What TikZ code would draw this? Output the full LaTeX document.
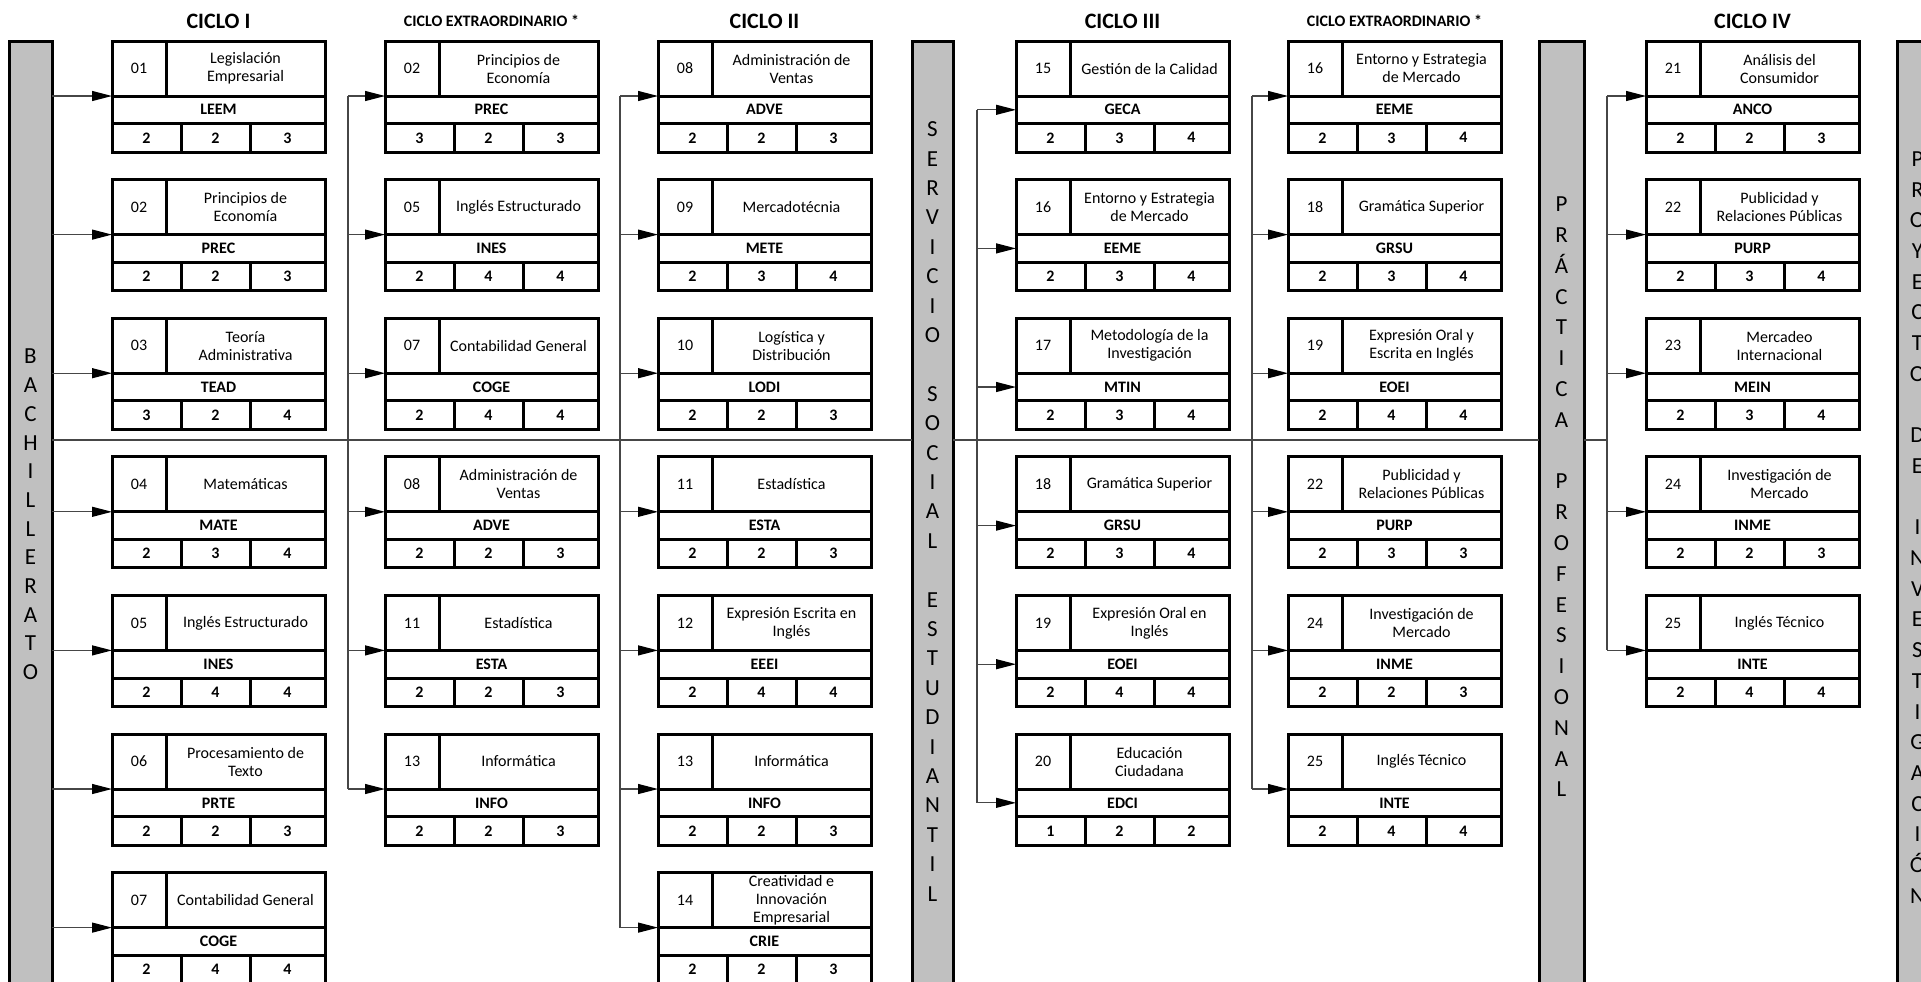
\documentclass[tikz,border=0pt]{standalone}
\usepackage{fontspec}
\setmainfont{Carlito}
\usetikzlibrary{arrows.meta}

\definecolor{barGray}{RGB}{192,192,192}
\definecolor{lineGray}{RGB}{70,70,70}

\tikzset{
  cell/.style={draw, line width=1.5pt, outer sep=0pt, inner sep=0.5pt, align=center, anchor=north west},
  numcell/.style={cell, minimum width=27pt, minimum height=27.5pt, font=\fontsize{8}{9}\selectfont},
  titlecell/.style={cell, minimum width=79.5pt, minimum height=27.5pt, font=\fontsize{8}{9}\selectfont},
  codecell/.style={cell, minimum width=106.5pt, minimum height=13.8pt, font=\bfseries\fontsize{8}{9}\selectfont},
  credcell/.style={cell, minimum width=34.5pt, minimum height=14.2pt, font=\bfseries\fontsize{8}{9}\selectfont},
  bar/.style={draw, line width=1.5pt, fill=barGray, outer sep=0pt, minimum height=474pt, anchor=north},
  bartext/.style={align=center, inner sep=0pt},
  conn/.style={draw=lineGray, line width=0.6pt},
  arr/.style={conn, -{Triangle[length=10pt,width=5pt,color=black]}},
  ciclo/.style={font=\bfseries\fontsize{11}{13}\selectfont},
  extra/.style={font=\bfseries\fontsize{8}{10}\selectfont}
}

% one subject box: name, top left, number, title, code, credits
\newcommand{\materia}[8]{%
  \node[numcell] (#1-n) at (#2) {#3};
  \node[titlecell] (#1-t) at (#1-n.north east) {#4};
  \node[codecell] (#1-c) at (#1-n.south west) {#5};
  \node[credcell] (#1-x) at (#1-c.south west) {#6};
  \node[credcell] (#1-y) at (#1-x.north east) {#7};
  \node[credcell, minimum width=37.5pt] (#1-z) at (#1-y.north east) {#8};
}

\begin{document}
\begin{tikzpicture}[x=0.5pt, y=0.5pt]
  \useasboundingbox (0,0) rectangle (1921,-981);
  \clip (0,0) rectangle (1921,-981);

  % Bars
  \node[bar, minimum width=21.5pt] (bach) at (30.5,-41) {};
  \node[bar, minimum width=20.5pt] (serv) at (932.5,-41) {};
  \node[bar, minimum width=22.5pt] (prac) at (1561.5,-41) {};
  \node[bar, minimum width=21.5pt] (proy) at (1918.5,-41) {};
  \node[bartext, font=\fontsize{11.5}{14.35}\selectfont] (bach-txt) at (30.5,-514.5)
    {B\\A\\C\\H\\I\\L\\L\\E\\R\\A\\T\\O};
  \node[bartext, font=\fontsize{11.5}{14.7}\selectfont] (serv-txt) at (932.5,-511.5)
    {S\\E\\R\\V\\I\\C\\I\\O\\[14.7pt]S\\O\\C\\I\\A\\L\\[14.7pt]E\\S\\T\\U\\D\\I\\A\\N\\T\\I\\L};
  \node[bartext, font=\fontsize{11.5}{15.4}\selectfont] (prac-txt) at (1561.5,-497)
    {P\\R\\Á\\C\\T\\I\\C\\A\\[15.4pt]P\\R\\O\\F\\E\\S\\I\\O\\N\\A\\L};
  \node[bartext, font=\fontsize{11.5}{15.35}\selectfont] (proy-txt) at (1917.5,-527.5)
    {P\\R\\O\\Y\\E\\C\\T\\O\\[15.35pt]D\\E\\[15.35pt]I\\N\\V\\E\\S\\T\\I\\G\\A\\C\\I\\Ó\\N};

  % Headers
  \node[ciclo] (h1) at (218.5,-21) {CICLO I};
  \node[extra] (h2) at (491.5,-21) {CICLO EXTRAORDINARIO *};
  \node[ciclo] (h3) at (764.5,-21) {CICLO II};
  \node[ciclo] (h4) at (1122.5,-21) {CICLO III};
  \node[extra] (h5) at (1394.5,-21) {CICLO EXTRAORDINARIO *};
  \node[ciclo] (h6) at (1752.5,-21) {CICLO IV};

  % Ciclo I
  \materia{ci01}{112,-41}{01}{Legislación\\Empresarial}{LEEM}{2}{2}{3}
  \materia{ci02}{112,-179.6}{02}{Principios de\\Economía}{PREC}{2}{2}{3}
  \materia{ci03}{112,-318.2}{03}{Teoría\\Administrativa}{TEAD}{3}{2}{4}
  \materia{ci04}{112,-456.8}{04}{Matemáticas}{MATE}{2}{3}{4}
  \materia{ci05}{112,-595.4}{05}{Inglés Estructurado}{INES}{2}{4}{4}
  \materia{ci06}{112,-734}{06}{Procesamiento de\\Texto}{PRTE}{2}{2}{3}
  \materia{ci07}{112,-872.6}{07}{Contabilidad General}{COGE}{2}{4}{4}

  % Ciclo extraordinario
  \materia{ea02}{385,-41}{02}{Principios de\\Economía}{PREC}{3}{2}{3}
  \materia{ea05}{385,-179.6}{05}{Inglés Estructurado}{INES}{2}{4}{4}
  \materia{ea07}{385,-318.2}{07}{Contabilidad General}{COGE}{2}{4}{4}
  \materia{ea08}{385,-456.8}{08}{Administración de\\Ventas}{ADVE}{2}{2}{3}
  \materia{ea11}{385,-595.4}{11}{Estadística}{ESTA}{2}{2}{3}
  \materia{ea13}{385,-734}{13}{Informática}{INFO}{2}{2}{3}

  % Ciclo II
  \materia{cii08}{658,-41}{08}{Administración de\\Ventas}{ADVE}{2}{2}{3}
  \materia{cii09}{658,-179.6}{09}{Mercadotécnia}{METE}{2}{3}{4}
  \materia{cii10}{658,-318.2}{10}{Logística y\\Distribución}{LODI}{2}{2}{3}
  \materia{cii11}{658,-456.8}{11}{Estadística}{ESTA}{2}{2}{3}
  \materia{cii12}{658,-595.4}{12}{Expresión Escrita en\\Inglés}{EEEI}{2}{4}{4}
  \materia{cii13}{658,-734}{13}{Informática}{INFO}{2}{2}{3}
  \materia{cii14}{658,-872.6}{14}{\fontsize{8}{8.6}\selectfont Creatividad e\\Innovación\\Empresarial}{CRIE}{2}{2}{3}

  % Ciclo III
  \materia{ciii15}{1016,-41}{15}{Gestión de la Calidad}{GECA}{2}{3}{4}
  \materia{ciii16}{1016,-179.6}{16}{Entorno y Estrategia\\de Mercado}{EEME}{2}{3}{4}
  \materia{ciii17}{1016,-318.2}{17}{Metodología de la\\Investigación}{MTIN}{2}{3}{4}
  \materia{ciii18}{1016,-456.8}{18}{Gramática Superior}{GRSU}{2}{3}{4}
  \materia{ciii19}{1016,-595.4}{19}{Expresión Oral en\\Inglés}{EOEI}{2}{4}{4}
  \materia{ciii20}{1016,-734}{20}{Educación\\Ciudadana}{EDCI}{1}{2}{2}

  % Ciclo extraordinario
  \materia{eb16}{1288,-41}{16}{Entorno y Estrategia\\de Mercado}{EEME}{2}{3}{4}
  \materia{eb18}{1288,-179.6}{18}{Gramática Superior}{GRSU}{2}{3}{4}
  \materia{eb19}{1288,-318.2}{19}{Expresión Oral y\\Escrita en Inglés}{EOEI}{2}{4}{4}
  \materia{eb22}{1288,-456.8}{22}{Publicidad y\\Relaciones Públicas}{PURP}{2}{3}{3}
  \materia{eb24}{1288,-595.4}{24}{Investigación de\\Mercado}{INME}{2}{2}{3}
  \materia{eb25}{1288,-734}{25}{Inglés Técnico}{INTE}{2}{4}{4}

  % Ciclo IV
  \materia{civ21}{1646,-41}{21}{Análisis del\\Consumidor}{ANCO}{2}{2}{3}
  \materia{civ22}{1646,-179.6}{22}{Publicidad y\\Relaciones Públicas}{PURP}{2}{3}{4}
  \materia{civ23}{1646,-318.2}{23}{Mercadeo\\Internacional}{MEIN}{2}{3}{4}
  \materia{civ24}{1646,-456.8}{24}{Investigación de\\Mercado}{INME}{2}{2}{3}
  \materia{civ25}{1646,-595.4}{25}{Inglés Técnico}{INTE}{2}{4}{4}

  % Trunk
  \coordinate (trunk) at (0,-440);
  \coordinate (v2) at (348,-440);
  \coordinate (v3) at (620,-440);
  \coordinate (v4) at (977,-440);
  \coordinate (v5) at (1252,-440);
  \coordinate (v6) at (1607,-440);
  \draw[conn] (bach.east |- trunk) -- (serv.west |- trunk);
  \draw[conn] (serv.east |- trunk) -- (prac.west |- trunk);
  \draw[conn] (prac.east |- trunk) -- (v6);

  % Bachillerato to Ciclo I
  \draw[arr] (bach.east |- ci01-c.north west) -- (ci01-c.north west);
  \draw[arr] (bach.east |- ci02-c.north west) -- (ci02-c.north west);
  \draw[arr] (bach.east |- ci03-c.north west) -- (ci03-c.north west);
  \draw[arr] (bach.east |- ci04-c.north west) -- (ci04-c.north west);
  \draw[arr] (bach.east |- ci05-c.north west) -- (ci05-c.north west);
  \draw[arr] (bach.east |- ci06-c.north west) -- (ci06-c.north west);
  \draw[arr] (bach.east |- ci07-c.north west) -- (ci07-c.north west);

  % Ciclo extraordinario
  \draw[conn] (v2 |- ea02-c.north west) -- (v2 |- ea13-c.north west);
  \draw[arr] (v2 |- ea02-c.north west) -- (ea02-c.north west);
  \draw[arr] (v2 |- ea05-c.north west) -- (ea05-c.north west);
  \draw[arr] (v2 |- ea07-c.north west) -- (ea07-c.north west);
  \draw[arr] (v2 |- ea08-c.north west) -- (ea08-c.north west);
  \draw[arr] (v2 |- ea11-c.north west) -- (ea11-c.north west);
  \draw[arr] (v2 |- ea13-c.north west) -- (ea13-c.north west);

  % Ciclo II
  \draw[conn] (v3 |- cii08-c.north west) -- (v3 |- cii14-c.north west);
  \draw[arr] (v3 |- cii08-c.north west) -- (cii08-c.north west);
  \draw[arr] (v3 |- cii09-c.north west) -- (cii09-c.north west);
  \draw[arr] (v3 |- cii10-c.north west) -- (cii10-c.north west);
  \draw[arr] (v3 |- cii11-c.north west) -- (cii11-c.north west);
  \draw[arr] (v3 |- cii12-c.north west) -- (cii12-c.north west);
  \draw[arr] (v3 |- cii13-c.north west) -- (cii13-c.north west);
  \draw[arr] (v3 |- cii14-c.north west) -- (cii14-c.north west);

  % Ciclo III
  \draw[conn] (v4 |- ciii15-c.west) -- (v4 |- ciii20-c.west);
  \draw[arr] (v4 |- ciii15-c.west) -- (ciii15-c.west);
  \draw[arr] (v4 |- ciii16-c.west) -- (ciii16-c.west);
  \draw[arr] (v4 |- ciii17-c.west) -- (ciii17-c.west);
  \draw[arr] (v4 |- ciii18-c.west) -- (ciii18-c.west);
  \draw[arr] (v4 |- ciii19-c.west) -- (ciii19-c.west);
  \draw[arr] (v4 |- ciii20-c.west) -- (ciii20-c.west);

  % Ciclo extraordinario
  \draw[conn] (v5 |- eb16-c.north west) -- (v5 |- eb25-c.north west);
  \draw[arr] (v5 |- eb16-c.north west) -- (eb16-c.north west);
  \draw[arr] (v5 |- eb18-c.north west) -- (eb18-c.north west);
  \draw[arr] (v5 |- eb19-c.north west) -- (eb19-c.north west);
  \draw[arr] (v5 |- eb22-c.north west) -- (eb22-c.north west);
  \draw[arr] (v5 |- eb24-c.north west) -- (eb24-c.north west);
  \draw[arr] (v5 |- eb25-c.north west) -- (eb25-c.north west);

  % Ciclo IV
  \draw[conn] (v6 |- civ21-c.north west) -- (v6 |- civ25-c.north west);
  \draw[arr] (v6 |- civ21-c.north west) -- (civ21-c.north west);
  \draw[arr] (v6 |- civ22-c.north west) -- (civ22-c.north west);
  \draw[arr] (v6 |- civ23-c.north west) -- (civ23-c.north west);
  \draw[arr] (v6 |- civ24-c.north west) -- (civ24-c.north west);
  \draw[arr] (v6 |- civ25-c.north west) -- (civ25-c.north west);
\end{tikzpicture}
\end{document}
